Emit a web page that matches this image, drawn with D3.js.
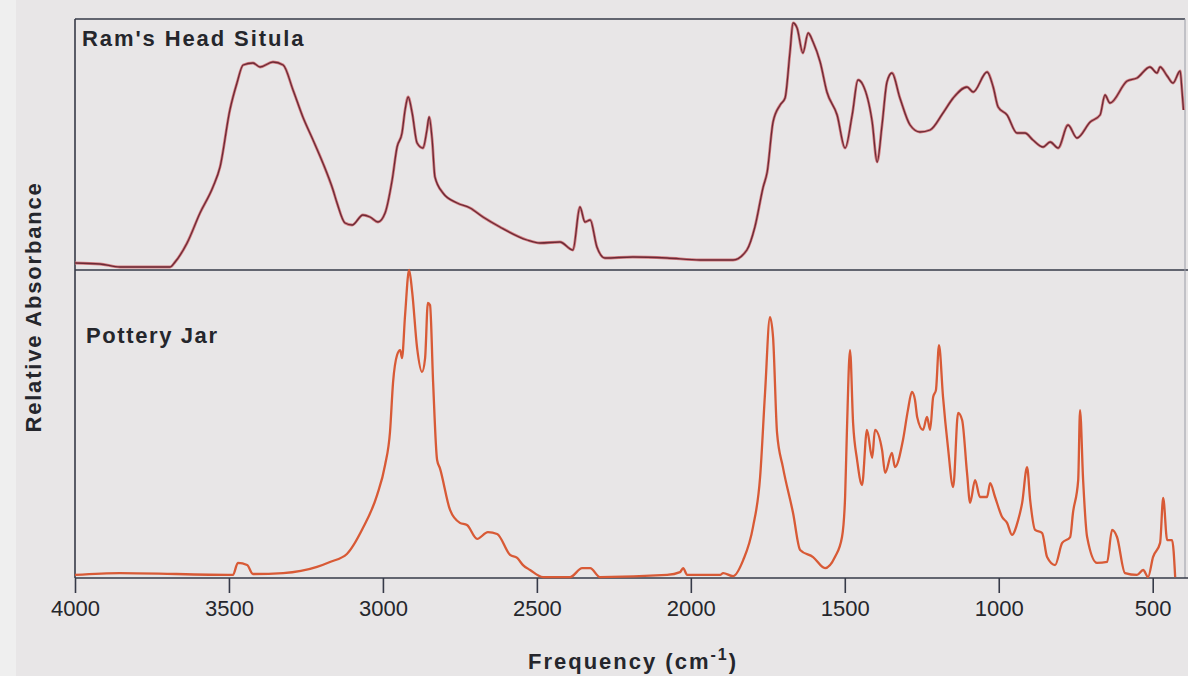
<!DOCTYPE html>
<html>
<head>
<meta charset="utf-8">
<script src="https://cdn.jsdelivr.net/npm/d3@7"></script>
<style>
    body { margin: 0; background: #e8e6e7; }
    #visual { width: 1188px; height: 676px; }
    text { font-family: "Liberation Sans", Arial, sans-serif; fill: #25262c; }
</style>
</head>
<body>
<div id="visual"></div>
<script>
// Ram's Head Situla spectrum (top panel)
var ramFreq = [4000, 3919, 3854, 3691, 3675, 3636, 3594, 3552, 3529, 3497, 3474, 3454, 3422, 3399, 3357, 3324, 3292, 3260, 3227, 3195,
    3162, 3149, 3123, 3100, 3065, 3042, 3016, 2993, 2970, 2954, 2938, 2928, 2918, 2905, 2889, 2870, 2857, 2850, 2840, 2831,
    2805, 2759, 2717, 2675, 2620, 2532, 2490, 2425, 2383, 2360, 2344, 2327, 2305, 2279, 2188, 2077, 1970, 1863, 1818, 1792,
    1765, 1752, 1733, 1710, 1694, 1678, 1668, 1655, 1636, 1619, 1603, 1580, 1558, 1525, 1499, 1476, 1457, 1441, 1411, 1395,
    1379, 1363, 1347, 1321, 1288, 1256, 1223, 1181, 1148, 1103, 1083, 1038, 1018, 1002, 973, 941, 915, 889, 856, 833,
    807, 775, 746, 703, 671, 655, 639, 583, 551, 509, 486, 476, 453, 434, 411, 405, 400];
var ramAbs = [0.028, 0.024, 0.012, 0.012, 0.032, 0.108, 0.228, 0.332, 0.412, 0.640, 0.748, 0.820, 0.828, 0.812, 0.832, 0.820, 0.720, 0.612, 0.520, 0.428,
    0.320, 0.268, 0.188, 0.180, 0.220, 0.212, 0.192, 0.228, 0.360, 0.492, 0.548, 0.640, 0.692, 0.628, 0.508, 0.488, 0.560, 0.612, 0.520, 0.372,
    0.308, 0.268, 0.248, 0.212, 0.172, 0.120, 0.108, 0.112, 0.080, 0.252, 0.192, 0.200, 0.092, 0.048, 0.052, 0.048, 0.040, 0.040, 0.080, 0.172,
    0.332, 0.392, 0.592, 0.660, 0.688, 0.872, 0.988, 0.968, 0.868, 0.948, 0.912, 0.832, 0.712, 0.620, 0.488, 0.620, 0.760, 0.740, 0.592, 0.432,
    0.580, 0.752, 0.788, 0.688, 0.580, 0.552, 0.560, 0.628, 0.688, 0.732, 0.712, 0.792, 0.732, 0.652, 0.620, 0.548, 0.548, 0.520, 0.492, 0.512,
    0.488, 0.580, 0.528, 0.592, 0.620, 0.700, 0.668, 0.756, 0.768, 0.812, 0.788, 0.812, 0.776, 0.748, 0.796, 0.720, 0.640];

// Pottery Jar spectrum (bottom panel)
var jarFreq = [4000, 3854, 3487, 3471, 3441, 3422, 3324, 3214, 3172, 3117, 3065, 3019, 2993, 2977, 2967, 2954, 2944, 2938, 2928, 2915,
    2905, 2889, 2873, 2863, 2854, 2847, 2837, 2824, 2815, 2782, 2750, 2727, 2694, 2659, 2629, 2587, 2564, 2545, 2522, 2480,
    2392, 2353, 2327, 2295, 2077, 2035, 2025, 2012, 1905, 1895, 1863, 1830, 1798, 1775, 1759, 1743, 1733, 1720, 1701, 1668,
    1645, 1603, 1564, 1532, 1509, 1499, 1493, 1483, 1473, 1460, 1444, 1428, 1411, 1402, 1379, 1369, 1347, 1337, 1311, 1295,
    1282, 1272, 1265, 1246, 1233, 1223, 1213, 1204, 1194, 1181, 1165, 1148, 1132, 1119, 1103, 1093, 1077, 1061, 1038, 1028,
    1012, 989, 973, 957, 937, 924, 908, 898, 882, 859, 843, 817, 794, 768, 759, 742, 736, 726, 713, 681,
    648, 632, 616, 590, 551, 531, 515, 499, 476, 466, 453, 437, 427];
var jarAbs = [0.010, 0.016, 0.010, 0.049, 0.042, 0.013, 0.016, 0.036, 0.052, 0.078, 0.162, 0.269, 0.367, 0.474, 0.636, 0.724, 0.740, 0.714, 0.854, 1.000,
    0.929, 0.747, 0.669, 0.714, 0.893, 0.886, 0.636, 0.383, 0.357, 0.221, 0.179, 0.172, 0.127, 0.149, 0.143, 0.075, 0.065, 0.042, 0.026, 0.003,
    0.003, 0.032, 0.032, 0.003, 0.010, 0.019, 0.032, 0.010, 0.010, 0.016, 0.006, 0.058, 0.166, 0.328, 0.601, 0.847, 0.782, 0.471, 0.360, 0.211,
    0.091, 0.068, 0.032, 0.068, 0.133, 0.263, 0.481, 0.740, 0.503, 0.383, 0.302, 0.481, 0.390, 0.481, 0.416, 0.341, 0.406, 0.360, 0.448, 0.545,
    0.604, 0.578, 0.523, 0.481, 0.523, 0.481, 0.588, 0.610, 0.756, 0.588, 0.425, 0.295, 0.536, 0.513, 0.341, 0.244, 0.318, 0.263, 0.263, 0.308,
    0.263, 0.198, 0.179, 0.140, 0.188, 0.244, 0.360, 0.253, 0.156, 0.146, 0.068, 0.042, 0.114, 0.133, 0.211, 0.318, 0.545, 0.318, 0.133, 0.049,
    0.052, 0.156, 0.133, 0.016, 0.010, 0.026, 0.003, 0.068, 0.114, 0.260, 0.123, 0.123, 0.003];

var xTicks = [4000, 3500, 3000, 2500, 2000, 1500, 1000, 500];

var width = 1188, height = 676;

var svg = d3.select('#visual')
    .append('svg')
    .attr('width', width)
    .attr('height', height);

// lighter strip on the far left of the scan
svg.append('rect')
    .attr('x', 0).attr('y', 0)
    .attr('width', 16).attr('height', height)
    .attr('fill', '#efefef');

var x_scale = d3.scaleLinear()
    .domain([4000, 400])
    .range([75, 1183.5]);

var y_top = d3.scaleLinear()
    .domain([0, 1])
    .range([270, 20]);

var y_bottom = d3.scaleLinear()
    .domain([0, 1])
    .range([578, 270]);

var frameColour = '#363a48';

// frame
svg.append('line').attr('x1', 75).attr('x2', 1185).attr('y1', 19).attr('y2', 19)
    .attr('stroke', frameColour).attr('stroke-width', 1.6);
svg.append('line').attr('x1', 75).attr('x2', 1188).attr('y1', 270).attr('y2', 270)
    .attr('stroke', frameColour).attr('stroke-width', 1.6);
svg.append('line').attr('x1', 1185).attr('x2', 1185).attr('y1', 19).attr('y2', 578)
    .attr('stroke', '#9a9ca6').attr('stroke-width', 1);
svg.append('line').attr('x1', 75).attr('x2', 75).attr('y1', 19).attr('y2', 578)
    .attr('stroke', frameColour).attr('stroke-width', 1.6);

// bottom axis
var x_axis = d3.axisBottom(x_scale)
    .tickValues(xTicks)
    .tickFormat(d3.format('d'))
    .tickSize(15)
    .tickSizeOuter(0)
    .tickPadding(7);

var axis_g = svg.append('g')
    .attr('class', 'x axis')
    .attr('transform', 'translate(0,578)')
    .call(x_axis);

axis_g.select('.domain')
    .attr('d', 'M75,0H1188')
    .attr('stroke', frameColour)
    .attr('stroke-width', 1.6);
axis_g.selectAll('.tick line')
    .attr('stroke', frameColour)
    .attr('stroke-width', 1.6);
axis_g.selectAll('.tick text')
    .attr('font-size', '22px')
    .attr('font-family', '"Liberation Sans", Arial, sans-serif')
    .attr('fill', '#1f2026');

// spectra
function spectrum(freq, abs, yScale) {
    var pts = freq.map(function (f, i) { return [f, abs[i]]; });
    var line = d3.line()
        .x(function (d) { return x_scale(d[0]); })
        .y(function (d) { return yScale(d[1]); })
        .curve(d3.curveMonotoneX);
    return { pts: pts, line: line };
}

var ram = spectrum(ramFreq, ramAbs, y_top);
svg.append('path')
    .datum(ram.pts)
    .attr('d', ram.line)
    .attr('fill', 'none')
    .attr('stroke', '#d27a7e')
    .attr('stroke-width', 2.8)
    .attr('stroke-linejoin', 'round');
svg.append('path')
    .datum(ram.pts)
    .attr('d', ram.line)
    .attr('fill', 'none')
    .attr('stroke', '#6b2a36')
    .attr('stroke-width', 1.3)
    .attr('stroke-linejoin', 'round');

var jar = spectrum(jarFreq, jarAbs, y_bottom);
svg.append('path')
    .datum(jar.pts)
    .attr('d', jar.line)
    .attr('fill', 'none')
    .attr('stroke', '#d85a36')
    .attr('stroke-width', 2.3)
    .attr('stroke-linejoin', 'round');

// labels
svg.append('text')
    .attr('x', 82).attr('y', 46)
    .attr('font-size', '22px')
    .attr('font-weight', 'bold')
    .attr('letter-spacing', '1.9px')
    .text("Ram's Head Situla");

svg.append('text')
    .attr('x', 86).attr('y', 343)
    .attr('font-size', '22px')
    .attr('font-weight', 'bold')
    .attr('letter-spacing', '1.6px')
    .text('Pottery Jar');

svg.append('text')
    .attr('transform', 'translate(41,307) rotate(-90)')
    .attr('text-anchor', 'middle')
    .attr('font-size', '22px')
    .attr('font-weight', 'bold')
    .attr('letter-spacing', '1.8px')
    .text('Relative Absorbance');

var xlab = svg.append('text')
    .attr('x', 528).attr('y', 669)
    .attr('font-size', '22px')
    .attr('font-weight', 'bold')
    .attr('letter-spacing', '2px');
xlab.append('tspan').text('Frequency (cm');
xlab.append('tspan').attr('font-size', '16px').attr('dy', -9).text('-1');
xlab.append('tspan').attr('dy', 9).text(')');
</script>
</body>
</html>
